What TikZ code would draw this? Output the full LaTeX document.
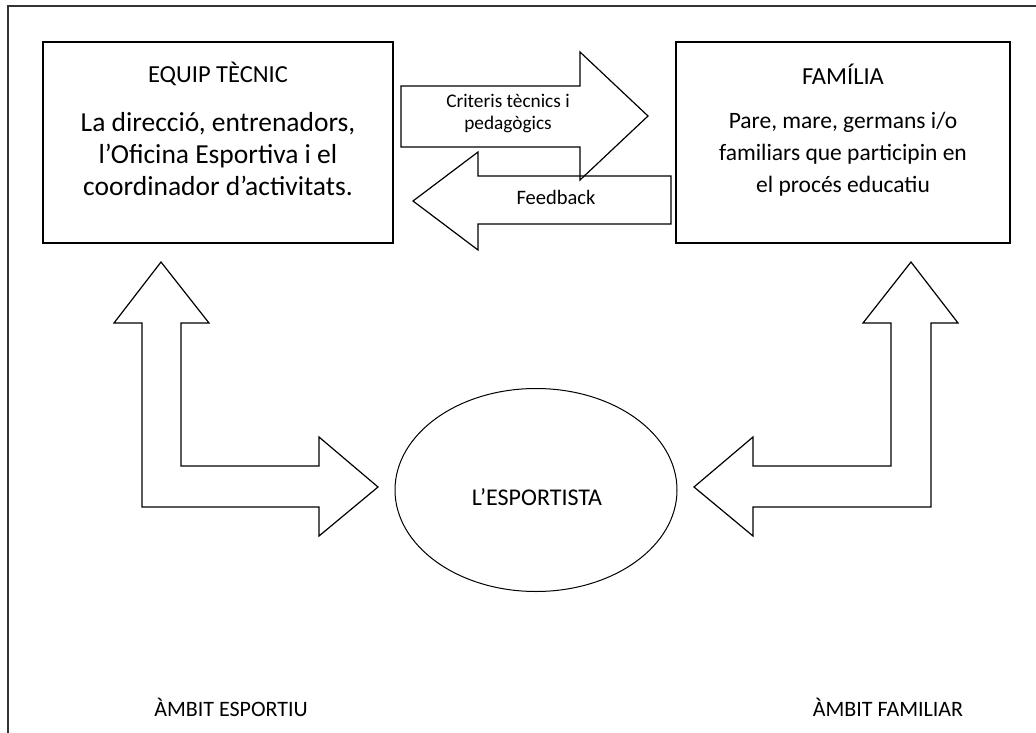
\documentclass[tikz,border=0pt]{standalone}
\usepackage{fontspec}
\setmainfont{Carlito}
\usepackage{tikz}
\usetikzlibrary{shapes.geometric}

\begin{document}
\begin{tikzpicture}[x=1pt, y=-1pt,
    caixa/.style={draw, line width=1.4pt, inner sep=0pt},
    fletxa/.style={draw, line width=1.2pt, line join=miter},
    titol/.style={font=\fontsize{24.5}{29}\selectfont},
    cosA/.style={align=center, font=\fontsize{27.5}{32}\selectfont},
    cosB/.style={align=center, font=\fontsize{23.5}{32}\selectfont},
    petit/.style={align=center, font=\fontsize{19.3}{22}\selectfont},
    ambit/.style={font=\fontsize{22}{26}\selectfont}]

        \useasboundingbox (0,0) rectangle (1036,733);
        \clip (0,0) rectangle (1036,733);
        \draw[line width=2pt, black!80] (8,745) -- (8,6) -- (1045,6);

        % caixes
        \node[caixa, minimum width=350pt, minimum height=201pt] (equipbox) at (218,142.5) {};
        \node[caixa, minimum width=334pt, minimum height=201pt] (familiabox) at (843,142.5) {};
        \node[titol] (equip) at (218,74) {EQUIP TÈCNIC};
        \node[cosA] (equiptxt) at (218,154) {La direcció, entrenadors,\\l’Oficina Esportiva i el\\coordinador d’activitats.};
        \node[titol] (familia) at (843,74) {FAMÍLIA};
        \node[cosB] (familiatxt) at (843,154) {Pare, mare, germans i/o\\familiars que participin en\\el procés educatiu};

        % fletxes de dalt
        \draw[fletxa] (671,176) -- (478,176) -- (478,152) -- (413,201) -- (478,250) -- (478,224) -- (671,224) -- cycle;
        \draw[fletxa] (401,86) -- (580,86) -- (580,52) -- (648,116) -- (580,180) -- (580,147) -- (401,147) -- cycle;
        \node[petit] (criteris) at (508,114) {Criteris tècnics i\\pedagògics};
        \node[petit, font=\fontsize{20.5}{22}\selectfont] (feedback) at (556,197) {Feedback};

        % l'esportista
        \node[draw, ellipse, line width=1pt, minimum width=282pt, minimum height=203pt] (esportista) at (536,490) {};
        \node[font=\fontsize{24}{29}\selectfont] (esportistatxt) at (537,497) {L’ESPORTISTA};

        % fletxes doblegades
        \draw[fletxa] (161,262) -- (209,323) -- (181,323) -- (181,466) -- (319,466) -- (319,437) -- (378,487)
            -- (319,536) -- (319,507) -- (142,507) -- (142,323) -- (114,323) -- cycle;
        \draw[fletxa] (911,262) -- (958,323) -- (931,323) -- (931,507) -- (753,507) -- (753,536) -- (694,487)
            -- (753,437) -- (753,466) -- (891,466) -- (891,323) -- (863,323) -- cycle;

        \node[ambit] (ambitesp) at (231,707) {ÀMBIT ESPORTIU};
        \node[ambit] (ambitfam) at (888,707) {ÀMBIT FAMILIAR};
    \end{tikzpicture}
\end{document}
